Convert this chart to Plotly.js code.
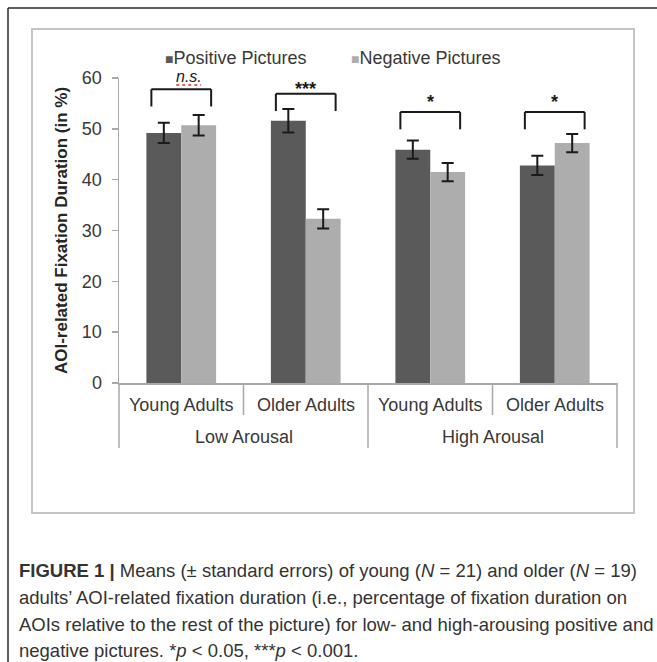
<!DOCTYPE html>
<html>
<head>
<meta charset="utf-8">
<script src="https://cdn.plot.ly/plotly-3.0.1.min.js"></script>
<style>
html,body{margin:0;padding:0;background:#ffffff;}
#chart{width:657px;height:662px;}
</style>
</head>
<body>
<div id="chart"></div>
<script>
// ---------- data ----------
const groups = ["Low Arousal", "High Arousal"];
const ages = ["Young Adults", "Older Adults"];
const seriesNames = ["Positive Pictures", "Negative Pictures"];
const positiveMeans = [49.2, 51.6, 45.9, 42.8];
const positiveSE = [2.0, 2.3, 1.8, 1.9];
const negativeMeans = [50.7, 32.3, 41.5, 47.2];
const negativeSE = [2.0, 1.9, 1.8, 1.8];
const sigLabels = ["n.s.", "***", "*", "*"];
const bracketLevels = [57.8, 56.9, 53.3, 53.3];
const yTicks = [0, 10, 20, 30, 40, 50, 60];
const yTitle = "AOI-related Fixation Duration (in %)";
const captionLines = [
  "<b>FIGURE 1 |</b> Means (± standard errors) of young (<i>N</i> = 21) and older (<i>N</i> = 19)",
  "adults’ AOI-related fixation duration (i.e., percentage of fixation duration on",
  "AOIs relative to the rest of the picture) for low- and high-arousing positive and",
  "negative pictures. *<i>p</i> &lt; 0.05, ***<i>p</i> &lt; 0.001."
];

// ---------- geometry / style ----------
const W = 657, H = 662;
const M = {l: 119, r: 40, t: 78, b: 279};
const PW = W - M.l - M.r, PH = H - M.t - M.b;
const px2x = px => (px - M.l) / PW;
const py2y = py => (H - M.b - py) / PH;
const colors = ["#5a5a5a", "#adadad"];
const axisGray = "#a8a8a8";
const font = "Liberation Sans, Arial, sans-serif";
const txt = "#383838";

const categories = [];
groups.forEach(g => ages.forEach(a => categories.push(g + " / " + a)));

const traces = [
  {type: "bar", name: seriesNames[0], x: categories, y: positiveMeans,
   marker: {color: colors[0]},
   error_y: {type: "data", array: positiveSE, visible: true, color: "#1a1a1a", thickness: 2, width: 6},
   showlegend: false, hoverinfo: "y"},
  {type: "bar", name: seriesNames[1], x: categories, y: negativeMeans,
   marker: {color: colors[1]},
   error_y: {type: "data", array: negativeSE, visible: true, color: "#1a1a1a", thickness: 2, width: 6},
   showlegend: false, hoverinfo: "y"}
];

const shapes = [];
const annotations = [];

// outer frame (top + left)
shapes.push({type: "line", xref: "paper", yref: "paper", x0: px2x(8), x1: px2x(657), y0: py2y(8), y1: py2y(8), line: {color: "#2a2a2a", width: 1.5}});
shapes.push({type: "line", xref: "paper", yref: "paper", x0: px2x(8), x1: px2x(8), y0: py2y(8), y1: py2y(662), line: {color: "#2a2a2a", width: 1.5}});
// inner chart box
shapes.push({type: "rect", xref: "paper", yref: "paper", x0: px2x(32), x1: px2x(634), y0: py2y(29), y1: py2y(513), line: {color: "#c4c4c4", width: 2}, layer: "below"});

// category table dividers
const nCat = categories.length;
for (let k = 0; k <= nCat; k++) {
  const outer = (k % ages.length === 0);
  shapes.push({type: "line", xref: "paper", yref: "paper", x0: k / nCat, x1: k / nCat, y0: 0, y1: py2y(outer ? 448 : 415), line: {color: axisGray, width: 1.5}});
}

// category labels
categories.forEach((c, i) => {
  annotations.push({xref: "x", yref: "paper", x: i, y: py2y(405), text: ages[i % ages.length], showarrow: false, xanchor: "center", yanchor: "middle", font: {family: font, size: 18, color: txt}});
});
groups.forEach((g, gi) => {
  annotations.push({xref: "x", yref: "paper", x: gi * ages.length + (ages.length - 1) / 2, y: py2y(437), text: g, showarrow: false, xanchor: "center", yanchor: "middle", font: {family: font, size: 18, color: txt}});
});

// significance brackets
const half = 0.24, drop = 3.4;
bracketLevels.forEach((lv, i) => {
  const ln = {color: "#1a1a1a", width: 2};
  shapes.push({type: "line", xref: "x", yref: "y", x0: i - half, x1: i + half, y0: lv, y1: lv, line: ln});
  shapes.push({type: "line", xref: "x", yref: "y", x0: i - half, x1: i - half, y0: lv, y1: lv - drop, line: ln});
  shapes.push({type: "line", xref: "x", yref: "y", x0: i + half, x1: i + half, y0: lv, y1: lv - drop, line: ln});
  const lab = sigLabels[i];
  const isNs = lab === "n.s.";
  const shift = isNs ? 2 : (lab.length > 1 ? -7 : -2);
  annotations.push({xref: "x", yref: "y", x: isNs ? i + 0.06 : i, y: lv, yanchor: "bottom", yshift: shift,
    text: isNs ? "<i>" + lab + "</i>" : "<b>" + lab + "</b>",
    showarrow: false, font: {family: font, size: isNs ? 16 : 18, color: "#1a1a1a"}});
  if (isNs) {
    shapes.push({type: "line", xref: "x", yref: "y", x0: i - 0.04, x1: i + 0.16, y0: lv + 0.8, y1: lv + 0.8, line: {color: "#e03030", width: 1.5, dash: "dot"}});
  }
});

// legend (drawn as text items)
annotations.push({xref: "paper", yref: "paper", x: px2x(163), y: py2y(58), xanchor: "left", yanchor: "middle", showarrow: false,
  text: '<span style="color:' + colors[0] + ';font-size:14px">■</span>' + seriesNames[0], font: {family: font, size: 18, color: txt}});
annotations.push({xref: "paper", yref: "paper", x: px2x(349), y: py2y(58), xanchor: "left", yanchor: "middle", showarrow: false,
  text: '<span style="color:' + colors[1] + ';font-size:14px">■</span>' + seriesNames[1], font: {family: font, size: 18, color: txt}});

// caption
const capY = [570, 597, 624, 650];
captionLines.forEach((t, i) => {
  annotations.push({xref: "paper", yref: "paper", x: px2x(17), y: py2y(capY[i]), xanchor: "left", yanchor: "middle", showarrow: false,
    text: t, font: {family: font, size: 18.5, color: "#333333"}});
});

const layout = {
  width: W, height: H,
  margin: M,
  paper_bgcolor: "#ffffff", plot_bgcolor: "#ffffff",
  barmode: "group", bargap: 0.44, bargroupgap: 0,
  showlegend: false,
  xaxis: {type: "category", range: [-0.5, nCat - 0.5], showline: true, linecolor: axisGray, linewidth: 1.5,
          showticklabels: false, ticks: "", showgrid: false, zeroline: false, fixedrange: true},
  yaxis: {range: [0, 60], tickvals: yTicks, ticktext: yTicks.map(String), ticks: "outside", ticklen: 6, tickwidth: 1.5, tickcolor: axisGray,
          showline: true, linecolor: axisGray, linewidth: 1.5, showgrid: false, zeroline: false, fixedrange: true,
          tickfont: {family: font, size: 18, color: txt}, ticklabelstandoff: 6,
          title: {text: "<b>" + yTitle + "</b>", font: {family: font, size: 17, color: "#262626"}, standoff: 10}},
  shapes: shapes,
  annotations: annotations
};

Plotly.newPlot("chart", traces, layout, {displayModeBar: false, staticPlot: true});
</script>
</body>
</html>
